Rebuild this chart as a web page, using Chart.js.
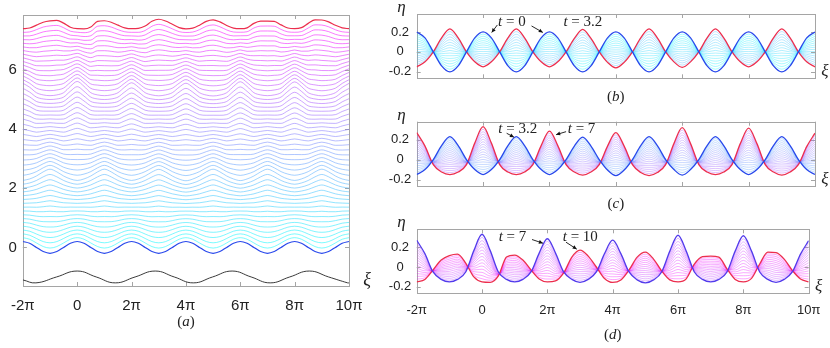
<!DOCTYPE html>
<html>
<head>
<meta charset="utf-8">
<script src="https://cdn.jsdelivr.net/npm/chart.js@4.4.1/dist/chart.umd.min.js"></script>
<style>
  body { margin: 0; background: #fff; width: 830px; height: 348px; position: relative; overflow: hidden; }
  canvas { position: absolute; }
</style>
</head>
<body>
<canvas id="pa" width="380" height="348" style="left:0;top:0"></canvas>
<canvas id="pb" width="470" height="108" style="left:360px;top:0"></canvas>
<canvas id="pc" width="470" height="108" style="left:360px;top:104px"></canvas>
<canvas id="pd" width="470" height="136" style="left:360px;top:212px"></canvas>
<script>
// xi in units of pi, one sample every quarter of a wavelength
const xi = [-2,-1.75,-1.5,-1.25,-1,-0.75,-0.5,-0.25,0,0.25,0.5,0.75,1,1.25,1.5,1.75,2,2.25,2.5,2.75,3,3.25,3.5,3.75,
            4,4.25,4.5,4.75,5,5.25,5.5,5.75,6,6.25,6.5,6.75,7,7.25,7.5,7.75,8,8.25,8.5,8.75,9,9.25,9.5,9.75,10];

// surface profiles
const etaT0 = [0.2,0.14,0,-0.14,-0.2,-0.14,0,0.14, 0.2,0.14,0,-0.14,-0.2,-0.14,0,0.14,
               0.2,0.14,0,-0.14,-0.2,-0.14,0,0.14, 0.2,0.14,0,-0.14,-0.2,-0.14,0,0.14,
               0.2,0.14,0,-0.14,-0.2,-0.14,0,0.14, 0.2,0.14,0,-0.14,-0.2,-0.14,0,0.14, 0.2];
const etaT32 = [-0.15,-0.1,0,0.14,0.23,0.14,0,-0.1, -0.15,-0.1,0,0.14,0.23,0.14,0,-0.1,
                -0.15,-0.1,0,0.135,0.225,0.135,0,-0.105, -0.16,-0.105,0,0.14,0.23,0.14,0,-0.1,
                -0.155,-0.1,0,0.14,0.23,0.14,0,-0.1, -0.15,-0.1,0,0.14,0.23,0.14,0,-0.1, -0.15];
const etaT7 = [0.27,0.135,-0.05,-0.125,-0.15,-0.125,-0.05,0.165, 0.33,0.165,-0.05,-0.125,-0.15,-0.125,-0.05,0.14,
               0.285,0.14,-0.05,-0.125,-0.155,-0.125,-0.05,0.135, 0.27,0.135,-0.05,-0.13,-0.16,-0.13,-0.05,0.16,
               0.32,0.16,-0.05,-0.125,-0.15,-0.125,-0.05,0.16, 0.315,0.16,-0.05,-0.125,-0.155,-0.125,-0.05,0.13, 0.265];
const etaT10 = [-0.15,-0.125,-0.03,0.07,0.115,0.13,0.04,-0.1, -0.15,-0.155,-0.09,0.1,0.12,0.07,-0.03,-0.12,
                -0.15,-0.14,-0.06,0.1,0.17,0.11,0,-0.115, -0.155,-0.13,-0.03,0.1,0.15,0.08,-0.04,-0.13,
                -0.15,-0.12,0.03,0.105,0.11,0.1,-0.02,-0.125, -0.15,-0.115,0.03,0.15,0.145,0.08,-0.035,-0.12, -0.15];

const timesB = [0,0.2,0.4,0.6,0.8,1,1.2,1.4,1.6,1.8,2,2.2,2.4,2.6,2.8,3,3.2];
const timesC = [3.2,3.4,3.6,3.8,4,4.2,4.4,4.6,4.8,5,5.2,5.4,5.6,5.8,6,6.2,6.4,6.6,6.8,7];
const timesD = [7,7.2,7.4,7.6,7.8,8,8.2,8.4,8.6,8.8,9,9.2,9.4,9.6,9.8,10];

// bottom curve of panel (a)
const forcingXi  = [-2,-1.52,-0.76,0,0.7,1.4,2.13,2.87,3.57,4.27,4.98,5.7,6.4,7.1,7.82,8.54,9.25,9.95,10];
const forcingEta = [-1.1,-1.2,-1,-0.8,-1,-1.2,-1,-0.8,-1,-1.2,-1,-0.8,-1,-1.2,-1,-0.8,-1,-1.2,-1.2];

const xTickVals = [-2,0,2,4,6,8,10];
const xTickText = ['-2π','0','2π','4π','6π','8π','10π'];
const yTicksA = [0,2,4,6];
const yTicksR = [-0.2,0,0.2];
const stackStep = 0.755; // vertical shift per unit of t in (a)

const notesB = [{t:'0', xi:0.45, eta:0.3}, {t:'3.2', xi:2.42, eta:0.3}];
const arrowsB = [[0.43,0.27,0.26,0.195], [1.46,0.26,1.8,0.195]];
const notesC = [{t:'3.2', xi:0.46, eta:0.305}, {t:'7', xi:2.55, eta:0.305}];
const arrowsC = [[0.71,0.264,0.93,0.225], [2.5,0.28,2.2,0.25]];
const notesD = [{t:'7', xi:0.51, eta:0.3}, {t:'10', xi:2.47, eta:0.3}];
const arrowsD = [[1.53,0.277,1.865,0.24], [2.57,0.25,2.9,0.18]];

const BLUE = 'rgb(40,72,236)';
const BLUE_D = 'rgb(82,58,236)';
const RED = 'rgb(236,46,78)';
const FRAME = '#a5a5a5';
const TEXT = '#222';
const SANS = "'Liberation Sans', Arial, sans-serif";
const SERIF = "'Liberation Serif', 'Times New Roman', serif";

const fans = [
  {times: timesB, from: etaT0, to: etaT32},
  {times: timesC, from: etaT32, to: etaT7},
  {times: timesD, from: etaT7, to: etaT10}
];

function cool(s, a) {
  return `rgba(${Math.round(255 * s)},${Math.round(255 * (1 - s))},255,${a})`;
}

// profile at time t inside a fan: mix of the two end profiles
function profile(fan, t) {
  const t0 = fan.times[0], t1 = fan.times[fan.times.length - 1];
  const s = (t - t0) / (t1 - t0);
  return xi.map((x, i) => ({x, y: (1 - s) * fan.from[i] + s * fan.to[i]}));
}

function label(ctx, parts, x, y, size, align) {
  ctx.save();
  ctx.fillStyle = TEXT;
  ctx.textBaseline = 'middle';
  ctx.textAlign = 'left';
  const fonts = parts.map(p => (p[1] ? 'italic ' : '') + size + 'px ' + SERIF);
  const widths = parts.map((p, i) => { ctx.font = fonts[i]; return ctx.measureText(p[0]).width; });
  const total = widths.reduce((s, w) => s + w, 0);
  let cx = align === 'center' ? x - total / 2 : x;
  parts.forEach((p, i) => { ctx.font = fonts[i]; ctx.fillText(p[0], cx, y); cx += widths[i]; });
  ctx.restore();
}

function arrow(ctx, x1, y1, x2, y2) {
  ctx.save();
  ctx.strokeStyle = '#111';
  ctx.fillStyle = '#111';
  ctx.lineWidth = 0.9;
  ctx.beginPath(); ctx.moveTo(x1, y1); ctx.lineTo(x2, y2); ctx.stroke();
  const ang = Math.atan2(y2 - y1, x2 - x1), L = 4.5, W = 0.45;
  ctx.beginPath();
  ctx.moveTo(x2, y2);
  ctx.lineTo(x2 - L * Math.cos(ang - W), y2 - L * Math.sin(ang - W));
  ctx.lineTo(x2 - L * Math.cos(ang + W), y2 - L * Math.sin(ang + W));
  ctx.closePath(); ctx.fill();
  ctx.restore();
}

function decor(draw) {
  return {
    id: 'decor',
    beforeDatasetsDraw(chart) {
      const {ctx, chartArea: a, scales: {x, y}} = chart;
      ctx.save();
      ctx.strokeStyle = FRAME;
      ctx.lineWidth = 1;
      ctx.beginPath();
      x.ticks.forEach(t => {
        const p = Math.round(x.getPixelForValue(t.value)) + 0.5;
        ctx.moveTo(p, a.bottom); ctx.lineTo(p, a.bottom - 4);
        ctx.moveTo(p, a.top); ctx.lineTo(p, a.top + 4);
      });
      y.ticks.forEach(t => {
        const p = Math.round(y.getPixelForValue(t.value)) + 0.5;
        ctx.moveTo(a.left, p); ctx.lineTo(a.left + 4, p);
        ctx.moveTo(a.right, p); ctx.lineTo(a.right - 4, p);
      });
      ctx.stroke();
      ctx.strokeRect(Math.round(a.left) + 0.5, Math.round(a.top) + 0.5, Math.round(a.width), Math.round(a.height));
      ctx.restore();
    },
    afterDatasetsDraw(chart) { draw(chart); }
  };
}

function makePanel(id, datasets, cfg) {
  return new Chart(document.getElementById(id), {
    type: 'line',
    data: {datasets},
    options: {
      responsive: false,
      animation: false,
      events: [],
      layout: {padding: {left: 0, top: cfg.padTop, right: cfg.padRight, bottom: 0}},
      elements: {point: {radius: 0}, line: {cubicInterpolationMode: 'monotone', borderJoinStyle: 'round'}},
      plugins: {legend: {display: false}, tooltip: {enabled: false}},
      scales: {
        x: {
          type: 'linear', min: -2, max: 10,
          afterBuildTicks: s => { s.ticks = xTickVals.map(v => ({value: v})); },
          afterFit: s => { s.height = cfg.xHeight; },
          grid: {display: false, drawTicks: false}, border: {display: false},
          ticks: {display: cfg.xLabels, autoSkip: false, maxRotation: 0, padding: cfg.xPad, color: TEXT,
                  font: {family: SANS, size: cfg.xSize}, callback: (v, i) => xTickText[i]}
        },
        y: {
          type: 'linear', min: cfg.yMin, max: cfg.yMax,
          afterBuildTicks: s => { s.ticks = cfg.yTicks.map(v => ({value: v})); },
          afterFit: s => { s.width = cfg.yWidth; },
          grid: {display: false, drawTicks: false}, border: {display: false},
          ticks: {padding: cfg.yPad, crossAlign: cfg.yAlign, color: TEXT,
                  font: {family: SANS, size: cfg.ySize}, callback: v => String(v)}
        }
      }
    },
    plugins: [decor(cfg.draw)]
  });
}

// panel (a): every profile, stacked
const setsA = [];
fans.forEach((fan, k) => fan.times.forEach((t, j) => {
  if (k > 0 && j === 0) return;
  const first = t === timesB[0], last = t === timesD[timesD.length - 1];
  setsA.push({
    data: profile(fan, t).map(p => ({x: p.x, y: p.y + stackStep * t})),
    borderColor: first ? BLUE : last ? RED : cool(t / 10, 0.6),
    borderWidth: first || last ? 1.2 : 0.9,
    order: first || last ? 0 : 1
  });
}));
setsA.push({
  data: forcingXi.map((x, i) => ({x, y: forcingEta[i]})),
  borderColor: '#3a3a3a', borderWidth: 1, order: 0,
  cubicInterpolationMode: 'default', tension: 0.45
});

makePanel('pa', setsA, {
  padTop: 10, padRight: 31, xHeight: 62, yWidth: 22.7, xLabels: true, xPad: 11, xSize: 15, ySize: 15,
  yMin: -1.306, yMax: 7.864, yTicks: yTicksA, yPad: 6, yAlign: 'near',
  draw: chart => {
    const {ctx, chartArea: a} = chart;
    label(ctx, [['(', false], ['a', true], [')', false]], (a.left + a.right) / 2, a.bottom + 36, 15, 'center');
    label(ctx, [['ξ', true]], a.right + 18, a.bottom - 6, 18, 'center');
  }
});

// panels (b)-(d): one fan each
function fanSets(fan, blue) {
  const n = fan.times.length;
  return fan.times.map((t, j) => {
    const edge = j === 0 || j === n - 1;
    return {
      data: profile(fan, t),
      borderColor: j === 0 ? blue : j === n - 1 ? RED : cool(t / 10, 0.45),
      borderWidth: edge ? 1.3 : 0.8,
      order: edge ? 0 : 1
    };
  });
}

function rightPanel(id, fan, blue, letter, notes, arrows, box) {
  makePanel(id, fanSets(fan, blue), {
    padTop: box.padTop, padRight: 15, xHeight: box.xHeight, yWidth: 56.7,
    xLabels: box.xLabels, xPad: 9.6, xSize: 13, ySize: 13,
    yMin: -0.265, yMax: 0.38, yTicks: yTicksR, yPad: 5.5, yAlign: 'center',
    draw: chart => {
      const {ctx, chartArea: a, scales: {x, y}} = chart;
      label(ctx, [['(', false], [letter, true], [')', false]], (a.left + a.right) / 2, a.bottom + box.capGap, 15, 'center');
      label(ctx, [['η', true]], a.left - 15.2, a.top - 6.5, 17, 'center');
      label(ctx, [['ξ', true]], a.right + 10, a.bottom - 6.5, 17, 'center');
      notes.forEach(n => label(ctx, [['t', true], [' = ' + n.t, false]],
        x.getPixelForValue(n.xi), y.getPixelForValue(n.eta), 15, 'left'));
      arrows.forEach(r => arrow(ctx, x.getPixelForValue(r[0]), y.getPixelForValue(r[1]),
        x.getPixelForValue(r[2]), y.getPixelForValue(r[3])));
    }
  });
}

rightPanel('pb', fans[0], BLUE, 'b', notesB, arrowsB, {padTop: 14, xHeight: 29.7, xLabels: false, capGap: 18.4});
rightPanel('pc', fans[1], BLUE, 'c', notesC, arrowsC, {padTop: 17.7, xHeight: 26, xLabels: false, capGap: 18});
rightPanel('pd', fans[2], BLUE_D, 'd', notesD, arrowsD, {padTop: 17.3, xHeight: 54.7, xLabels: true, capGap: 41.7});
</script>
</body>
</html>
